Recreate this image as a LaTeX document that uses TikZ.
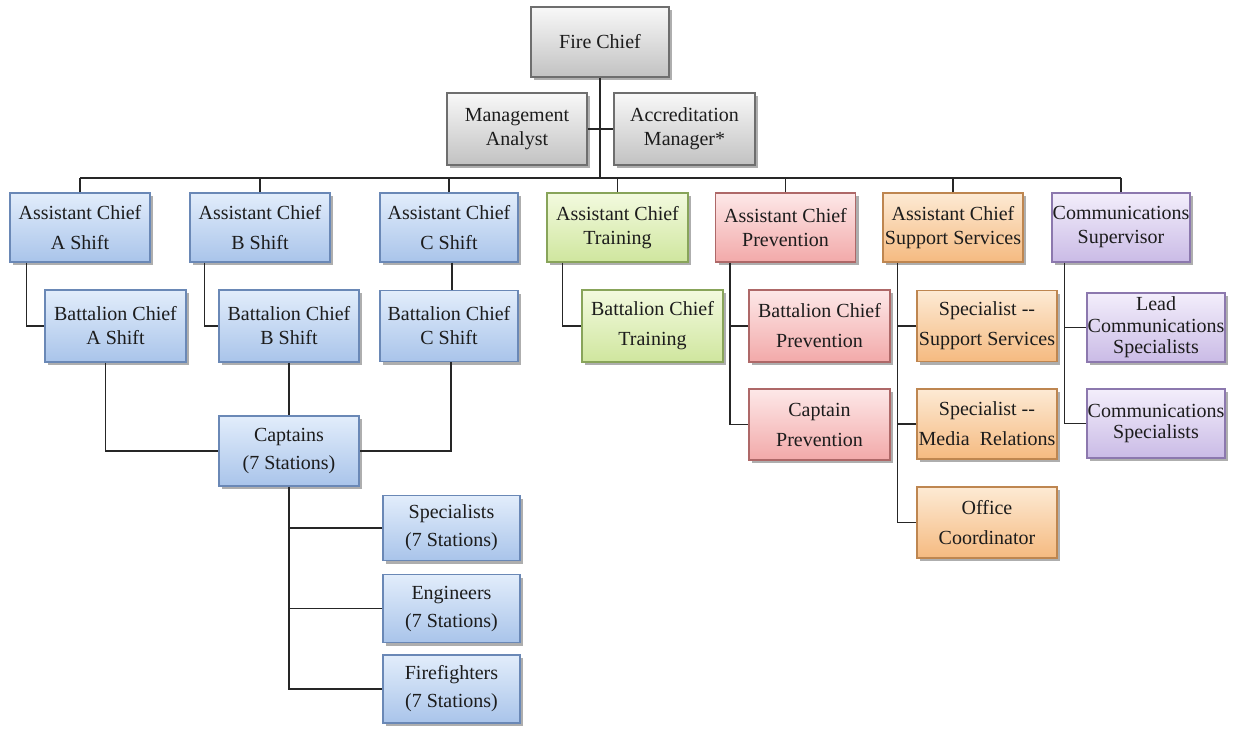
\documentclass[tikz,border=0pt]{standalone}
\usepackage{fontspec}
\setmainfont{Liberation Serif}
\usetikzlibrary{shadows}
\definecolor{bT}{HTML}{E2EDFB}\definecolor{bB}{HTML}{A9C4EA}\definecolor{bD}{HTML}{6A88B6}
\definecolor{gT}{HTML}{F8F8F8}\definecolor{gB}{HTML}{C2C2C2}\definecolor{gD}{HTML}{6E6E6E}
\definecolor{nT}{HTML}{F3FADF}\definecolor{nB}{HTML}{CFE69E}\definecolor{nD}{HTML}{88A45A}
\definecolor{rT}{HTML}{FDE8E8}\definecolor{rB}{HTML}{F2A9A9}\definecolor{rD}{HTML}{AE6868}
\definecolor{oT}{HTML}{FDEAD4}\definecolor{oB}{HTML}{F5BA80}\definecolor{oD}{HTML}{BE8650}
\definecolor{pT}{HTML}{F3EEFB}\definecolor{pB}{HTML}{CABBE6}\definecolor{pD}{HTML}{8C78AE}
\definecolor{txt}{HTML}{1C1C1C}
\tikzset{
  orgbox/.style={rectangle, inner sep=0pt, align=center, text=txt,
    minimum width=140pt, minimum height=70pt, line width=1.3pt,
    drop shadow={shadow xshift=3pt, shadow yshift=-3pt, fill=black!70, opacity=.45},
    font=\fontsize{20}{24}\selectfont},
  wide/.style={font=\fontsize{20}{30}\selectfont},
  bluebox/.style={orgbox, draw=bD, top color=bT, bottom color=bB},
  graybox/.style={orgbox, draw=gD, top color=gT, bottom color=gB},
  greenbox/.style={orgbox, draw=nD, top color=nT, bottom color=nB},
  redbox/.style={orgbox, draw=rD, top color=rT, bottom color=rB},
  orangebox/.style={orgbox, draw=oD, top color=oT, bottom color=oB},
  purplebox/.style={orgbox, draw=pD, top color=pT, bottom color=pB},
  link/.style={draw=black!85, line width=1.3pt}
}
\begin{document}
\begin{tikzpicture}[x=1pt,y=-1pt]
\useasboundingbox[fill=white] (0,0) rectangle (1233,728);
% top
\node[graybox, minimum width=138pt] (fc) at (600,42) {Fire Chief};
\node[graybox, minimum height=72pt] (ma) at (517,129) {Management\\Analyst};
\node[graybox, minimum width=141pt, minimum height=72pt] (am) at (684.5,129) {Accreditation\\Manager*};
% row 1
\node[bluebox, wide, minimum height=69pt] (aca) at (80,227.5) {Assistant Chief\\A Shift};
\node[bluebox, wide, minimum height=69pt] (acb) at (260,227.5) {Assistant Chief\\B Shift};
\node[bluebox, wide, minimum height=69pt, minimum width=138pt] (acc) at (449,227.5) {Assistant Chief\\C Shift};
\node[greenbox, minimum height=69pt, minimum width=141pt] (act) at (617.5,227.5) {Assistant Chief\\Training};
\node[redbox, minimum height=69pt] (acp) at (785.5,227.5) {Assistant Chief\\Prevention};
\node[orangebox, minimum height=69pt] (acs) at (953,227.5) {Assistant Chief\\Support Services};
\node[purplebox, minimum height=69pt, minimum width=138pt] (cs) at (1121,227.5) {Communications\\Supervisor};
% row 2
\node[bluebox, minimum height=72pt, minimum width=141pt] (bca) at (115.5,326) {Battalion Chief\\A Shift};
\node[bluebox, minimum height=72pt] (bcb) at (289,326) {Battalion Chief\\B Shift};
\node[bluebox, minimum height=71pt, minimum width=138pt] (bcc) at (449,326) {Battalion Chief\\C Shift};
\node[greenbox, wide, minimum height=72pt, minimum width=141pt] (bct) at (652.5,326) {Battalion Chief\\Training};
\node[redbox, wide, minimum height=72pt, minimum width=141pt] (bcp) at (819.5,326) {Battalion Chief\\Prevention};
\node[redbox, wide, minimum height=71pt, minimum width=141pt] (cpp) at (819.5,424.5) {Captain\\Prevention};
\node[orangebox, wide, minimum height=71pt] (sss) at (987,326) {Specialist -{}-\\Support Services};
\node[orangebox, wide, minimum height=70pt] (smr) at (987,424) {Specialist -{}-\\Media\ \ Relations};
\node[orangebox, wide, minimum height=71pt] (ofc) at (987,522.5) {Office\\Coordinator};
\node[purplebox, minimum width=138pt, minimum height=69pt, font=\fontsize{20}{21.5}\selectfont] (lcs) at (1156,327.5) {Lead\\Communications\\Specialists};
\node[purplebox, minimum width=138pt, minimum height=69pt, font=\fontsize{20}{21.5}\selectfont] (csp) at (1156,423.5) {Communications\\Specialists};
% captains
\node[bluebox, font=\fontsize{20}{28}\selectfont] (cap) at (289,451) {Captains\\(7 Stations)};
\node[bluebox, font=\fontsize{20}{28}\selectfont, minimum width=137pt, minimum height=65pt] (spc) at (451.5,528) {Specialists\\(7 Stations)};
\node[bluebox, font=\fontsize{20}{28}\selectfont, minimum width=137pt, minimum height=68pt] (eng) at (451.5,608.5) {Engineers\\(7 Stations)};
\node[bluebox, font=\fontsize{20}{28}\selectfont, minimum width=137pt, minimum height=68pt] (ffg) at (451.5,689) {Firefighters\\(7 Stations)};
% connectors
\coordinate (busL) at (80,178);
\coordinate (busR) at (1121,178);
\draw[link] (busL) -- (busR);
\draw[link] (fc.south) -- (fc.south |- busL);
\draw[link] (ma.east) -- (am.west);
\foreach \n in {aca,acb,acc,act,acp,acs,cs}{
  \draw[link] (\n.north) -- (\n.north |- busL);
}
\draw[link] ([xshift=17pt]aca.south west) |- (bca.west);
\draw[link] ([xshift=15pt]acb.south west) |- (bcb.west);
\draw[link] ([xshift=3pt]acc.south) -- ([xshift=3pt]bcc.north);
\draw[link] ([xshift=16pt]act.south west) |- (bct.west);
\coordinate (pv) at ([xshift=15pt]acp.south west);
\draw[link] (pv) |- (cpp.west);
\draw[link] (bcp.west) -- (bcp.west -| pv);
\coordinate (sv) at ([xshift=15pt]acs.south west);
\draw[link] (sv) |- (ofc.west);
\draw[link] (sss.west) -- (sss.west -| sv);
\draw[link] (smr.west) -- (smr.west -| sv);
\coordinate (cv) at ([xshift=13pt]cs.south west);
\draw[link] (cv) |- (csp.west);
\draw[link] (lcs.west) -- (lcs.west -| cv);
\draw[link] ([xshift=61pt]bca.south west) |- (cap.west);
\draw[link] (bcb.south) -- (cap.north);
\draw[link] ([xshift=2pt]bcc.south) |- (cap.east);
\draw[link] (cap.south) |- (ffg.west);
\draw[link] (spc.west) -- (spc.west -| cap.south);
\draw[link] (eng.west) -- (eng.west -| cap.south);
\end{tikzpicture}
\end{document}
